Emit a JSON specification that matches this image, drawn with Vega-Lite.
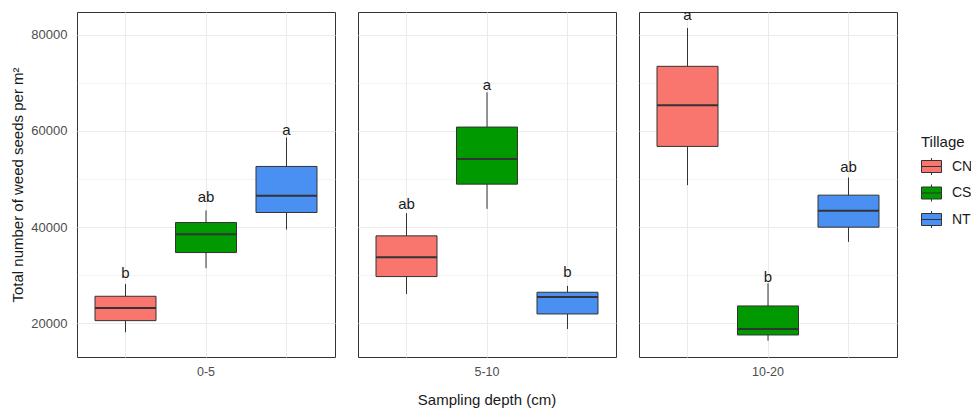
{
  "$schema": "https://vega.github.io/schema/vega-lite/v6.json",
  "padding": {"left": 10, "top": 7, "right": 5, "bottom": 2},
  "background": "white",
  "data": {
    "values": [
      {"depth": "0-5", "tillage": "CN", "lower": 18131, "q1": 20558, "median": 23194, "q3": 25622, "upper": 28188, "letter": "b", "label_y": 30408},
      {"depth": "0-5", "tillage": "CS", "lower": 31448, "q1": 34708, "median": 38523, "q3": 40950, "upper": 43447, "letter": "ab", "label_y": 46222},
      {"depth": "0-5", "tillage": "NT", "lower": 39494, "q1": 43031, "median": 46499, "q3": 52603, "upper": 58637, "letter": "a", "label_y": 60094},
      {"depth": "5-10", "tillage": "CN", "lower": 26107, "q1": 29714, "median": 33737, "q3": 38176, "upper": 42892, "letter": "ab", "label_y": 44835},
      {"depth": "5-10", "tillage": "CS", "lower": 43794, "q1": 48927, "median": 54129, "q3": 60787, "upper": 68000, "letter": "a", "label_y": 69596},
      {"depth": "5-10", "tillage": "NT", "lower": 18824, "q1": 21946, "median": 25483, "q3": 26454, "upper": 27772, "letter": "b", "label_y": 30755},
      {"depth": "10-20", "tillage": "CN", "lower": 48719, "q1": 56764, "median": 65296, "q3": 73411, "upper": 81387, "letter": "a", "label_y": 84162},
      {"depth": "10-20", "tillage": "CS", "lower": 16397, "q1": 17576, "median": 18824, "q3": 23610, "upper": 28327, "letter": "b", "label_y": 29714},
      {"depth": "10-20", "tillage": "NT", "lower": 36927, "q1": 39979, "median": 43378, "q3": 46638, "upper": 50314, "letter": "ab", "label_y": 52464}
    ]
  },
  "facet": {
    "column": {
      "field": "depth",
      "type": "nominal",
      "sort": ["0-5", "5-10", "10-20"],
      "title": "Sampling depth (cm)",
      "header": {
        "labelOrient": "bottom",
        "titleOrient": "bottom",
        "labelFont": "Liberation Sans",
        "labelFontSize": 12.5,
        "labelColor": "#4d4d4d",
        "labelPadding": 8,
        "titleFont": "Liberation Sans",
        "titleFontSize": 15,
        "titleFontWeight": "normal",
        "titleColor": "#1a1a1a",
        "titlePadding": 4
      }
    }
  },
  "spacing": 21,
  "spec": {
    "width": 258,
    "height": 345,
    "encoding": {
      "x": {
        "field": "tillage",
        "type": "nominal",
        "sort": ["CN", "CS", "NT"],
        "scale": {"paddingInner": 0, "paddingOuter": 0.1025},
        "axis": {"labels": false, "ticks": false, "domain": false, "grid": true, "bandPosition": 0.5, "title": null, "gridColor": "#ebebeb", "gridWidth": 1}
      }
    },
    "layer": [
      {
        "mark": {"type": "rule", "color": "#333333", "strokeWidth": 1},
        "encoding": {
          "y": {
            "field": "lower",
            "type": "quantitative",
            "scale": {"domain": [13000, 84700], "nice": false, "zero": false},
            "axis": {
              "title": "Total number of weed seeds per m²",
              "values": [20000, 30000, 40000, 50000, 60000, 70000, 80000],
              "labelExpr": "datum.value % 20000 == 0 ? datum.label : ''",
              "format": "d",
              "ticks": false,
              "tickSize": 0,
              "domain": false,
              "labelPadding": 9,
              "labelFont": "Liberation Sans",
              "labelFontSize": 13,
              "labelColor": "#4d4d4d",
              "titleFont": "Liberation Sans",
              "titleFontSize": 15,
              "titleFontWeight": "normal",
              "titleColor": "#1a1a1a",
              "titlePadding": 5,
              "grid": true,
              "gridColor": "#ebebeb",
              "gridWidth": {"condition": {"test": "datum.value % 20000 == 0", "value": 1}, "value": 0.6}
            }
          },
          "y2": {"field": "upper"}
        }
      },
      {
        "mark": {"type": "bar", "stroke": "#333333", "strokeWidth": 1, "width": 61},
        "encoding": {
          "y": {"field": "q1", "type": "quantitative"},
          "y2": {"field": "q3"},
          "fill": {
            "field": "tillage",
            "type": "nominal",
            "title": "Tillage",
            "scale": {"domain": ["CN", "CS", "NT"], "range": ["#F8766D", "#009900", "#4A90F2"]},
            "legend": {
              "orient": "none",
              "legendX": 844,
              "legendY": 123,
              "padding": 0,
              "symbolType": "M-1,-0.6H1V0.6H-1Z M-1,0H1 M0,-0.6V-0.85 M0,0.6V0.85",
              "symbolSize": 400,
              "symbolStrokeColor": "#333333",
              "symbolStrokeWidth": 1,
              "symbolOpacity": 1,
              "titleFont": "Liberation Sans",
              "titleFontSize": 15,
              "titleFontWeight": "normal",
              "titleColor": "#1a1a1a",
              "titlePadding": 6,
              "labelFont": "Liberation Sans",
              "labelFontSize": 14,
              "labelColor": "#1a1a1a",
              "labelOffset": 10,
              "rowPadding": 5.5
            }
          }
        }
      },
      {
        "mark": {"type": "tick", "color": "#333333", "thickness": 2, "size": 61, "opacity": 1},
        "encoding": {
          "y": {"field": "median", "type": "quantitative"}
        }
      },
      {
        "mark": {"type": "text", "font": "Liberation Sans", "fontSize": 15, "color": "#1a1a1a", "baseline": "middle"},
        "encoding": {
          "y": {"field": "label_y", "type": "quantitative"},
          "text": {"field": "letter"}
        }
      }
    ]
  },
  "config": {
    "view": {"stroke": "#333333", "strokeWidth": 1}
  }
}
